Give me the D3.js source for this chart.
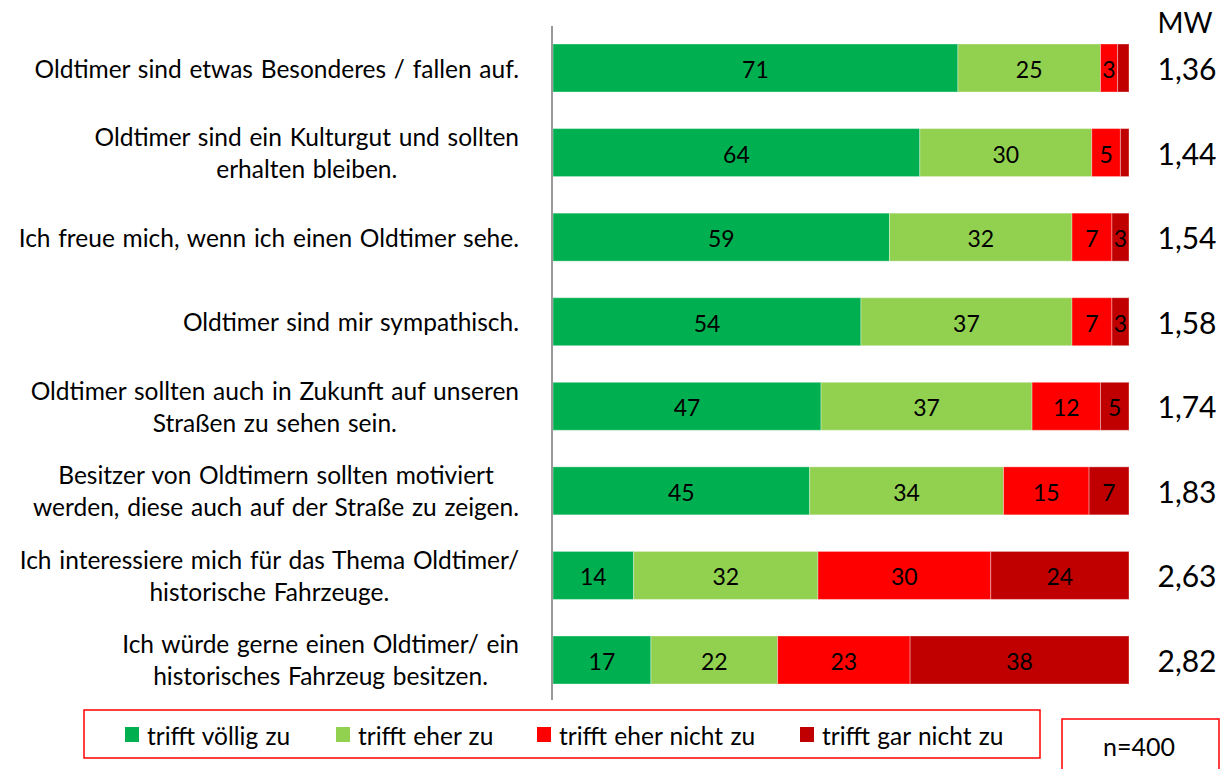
<!DOCTYPE html>
<html><head><meta charset="utf-8">
<script src="https://cdn.jsdelivr.net/npm/d3@7"></script>
<style>body{margin:0;background:#fff;} text{font-family:Lato, "Noto Sans", sans-serif;}</style>
</head><body>
<svg id="c" width="1226" height="769"></svg>
<script>
const categories = [
  ["Oldtimer sind etwas Besonderes / fallen auf."],
  ["Oldtimer sind ein Kulturgut und sollten", "erhalten bleiben."],
  ["Ich freue mich, wenn ich einen Oldtimer sehe."],
  ["Oldtimer sind mir sympathisch."],
  ["Oldtimer sollten auch in Zukunft auf unseren", "Straßen zu sehen sein."],
  ["Besitzer von Oldtimern sollten motiviert", "werden, diese auch auf der Straße zu zeigen."],
  ["Ich interessiere mich für das Thema Oldtimer/", "historische Fahrzeuge."],
  ["Ich würde gerne einen Oldtimer/ ein", "historisches Fahrzeug besitzen."]
];
const trifftVoellig = [71, 64, 59, 54, 47, 45, 14, 17];
const trifftEher = [25, 30, 32, 37, 37, 34, 32, 22];
const trifftEherNicht = [3, 5, 7, 7, 12, 15, 30, 23];
const trifftGarNicht = [2, 1.5, 3, 3, 5, 7, 24, 38];
const mw = ["1,36", "1,44", "1,54", "1,58", "1,74", "1,83", "2,63", "2,82"];
const seriesNames = ["trifft völlig zu", "trifft eher zu", "trifft eher nicht zu", "trifft gar nicht zu"];
const colors = ["#00B050", "#92D050", "#FF0000", "#C00000"];
const sampleLabel = "n=400";

const svg = d3.select("#c");
const series = [trifftVoellig, trifftEher, trifftEherNicht, trifftGarNicht];
const rows = categories.map((c, i) => {
  const vals = series.map(s => s[i]);
  const tot = d3.sum(vals);
  let acc = 0;
  return vals.map((v, k) => { const r = {row: i, k, v, x0: acc / tot * 100, x1: (acc + v) / tot * 100}; acc += v; return r; });
});

const x = d3.scaleLinear().domain([0, 100]).range([553, 1129]);
const y = d3.scaleBand().domain(d3.range(categories.length)).range([44, 684]).paddingInner(0.4324).paddingOuter(0);

// bars
const g = svg.append("g");
rows.forEach(r => {
  g.selectAll(null).data(r).enter().append("rect")
    .attr("x", d => x(d.x0)).attr("y", d => y(d.row))
    .attr("width", d => x(d.x1) - x(d.x0)).attr("height", y.bandwidth())
    .attr("fill", d => colors[d.k])
    .attr("stroke", "rgba(255,255,255,0.35)").attr("stroke-width", 1);
  g.selectAll(null).data(r.filter(d => d.v >= 3)).enter().append("text")
    .attr("x", d => (x(d.x0) + x(d.x1)) / 2).attr("y", d => y(d.row) + y.bandwidth() / 2 + 1)
    .attr("text-anchor", "middle").attr("dominant-baseline", "central")
    .attr("font-size", 23).attr("fill", "#000").text(d => d.v);
});

// axis line
svg.append("line").attr("x1", 552).attr("x2", 552).attr("y1", 26).attr("y2", 700)
  .attr("stroke", "#999").attr("stroke-width", 2);

// category labels
categories.forEach((lines, i) => {
  const cy = y(i) + y.bandwidth() / 2;
  const lh = 32;
  const t = svg.append("text").attr("font-size", 24.5).attr("word-spacing", 1.5).attr("fill", "#000").attr("text-anchor", "middle");
  const spans = lines.map((l, j) => t.append("tspan").attr("y", cy + (j - (lines.length - 1) / 2) * lh).attr("dominant-baseline", "central").text(l));
  const maxW = d3.max(spans, s => s.node().getComputedTextLength());
  spans.forEach(s => s.attr("x", 519 - maxW / 2));
});

// MW
svg.append("text").attr("x", 1185).attr("y", 22).attr("text-anchor", "middle").attr("dominant-baseline", "central")
  .attr("font-size", 28).text("MW");
svg.selectAll(null).data(mw).enter().append("text")
  .attr("x", 1187).attr("y", (d, i) => y(i) + y.bandwidth() / 2)
  .attr("text-anchor", "middle").attr("dominant-baseline", "central").attr("font-size", 30).text(d => d);

// legend
svg.append("rect").attr("x", 84).attr("y", 710).attr("width", 956).attr("height", 48)
  .attr("fill", "none").attr("stroke", "#FF0000").attr("stroke-width", 1.5);
const legX = [125, 336, 537, 800];
seriesNames.forEach((n, i) => {
  svg.append("rect").attr("x", legX[i]).attr("y", 727).attr("width", 14).attr("height", 15).attr("fill", colors[i]);
  svg.append("text").attr("x", legX[i] + 22).attr("y", 735).attr("dominant-baseline", "central")
    .attr("font-size", 24.5).attr("word-spacing", 1).text(n);
});
svg.append("rect").attr("x", 1062).attr("y", 719).attr("width", 157).attr("height", 60)
  .attr("fill", "none").attr("stroke", "#FF0000").attr("stroke-width", 1.5);
svg.append("text").attr("x", 1139).attr("y", 746).attr("text-anchor", "middle").attr("dominant-baseline", "central")
  .attr("font-size", 25).text(sampleLabel);
</script>
</body></html>
